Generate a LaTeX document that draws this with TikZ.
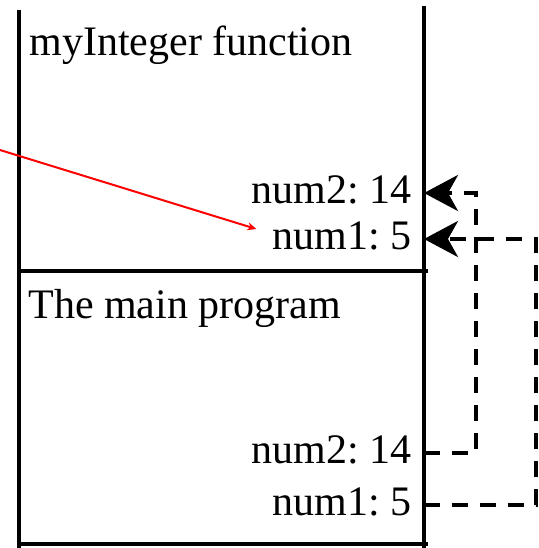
\documentclass[tikz,border=0pt]{standalone}
\usepackage{fontspec}
\setmainfont{Liberation Serif}
\usetikzlibrary{arrows.meta}
\frenchspacing

\begin{document}
\begin{tikzpicture}[
  x=0.5pt, y=-0.5pt,
  frame/.style={line width=2pt, black},
  heading/.style={anchor=base west, inner sep=0pt, font=\fontsize{21}{25}\selectfont},
  var/.style={anchor=east, inner xsep=6pt, inner ysep=0pt, text height=13pt, text depth=3pt,
              font=\fontsize{21}{25}\selectfont},
  link/.style={line width=2pt, dash pattern=on 8pt off 6pt,
               -{Stealth[length=17pt, width=18pt, inset=5pt]}},
  pointer/.style={line width=1pt, red, -{Stealth[length=4.5pt, width=4pt]}},
]
  \useasboundingbox (0,0) rectangle (538,548);

  % stack frames
  \draw[frame] (19,10) -- (19,548);
  \draw[frame] (424,6) -- (424,548);
  \draw[frame] (19,271) -- (428,271);
  \draw[frame] (19,544) -- (428,544);

  \node[heading] (fn) at (29,55) {myInteger function};
  \node[heading] (mp) at (28,318) {The main program};

  \node[var] (f2) at (424,193) {num2: 14};
  \node[var] (f1) at (424,239) {num1: 5};
  \node[var] (m2) at (424,453) {num2: 14};
  \node[var] (m1) at (424,505) {num1: 5};

  % passing the arguments
  \draw[link] (m2.east) -- ++(52,0) |- (f2.east);
  \draw[link] (m1.east) -- ++(112,0) |- (f1.east);

  % pointer to the parameter
  \coordinate (src) at (0,150);
  \draw[pointer] (src) -- ([xshift=-2pt, yshift=5pt]f1.west);
\end{tikzpicture}
\end{document}
